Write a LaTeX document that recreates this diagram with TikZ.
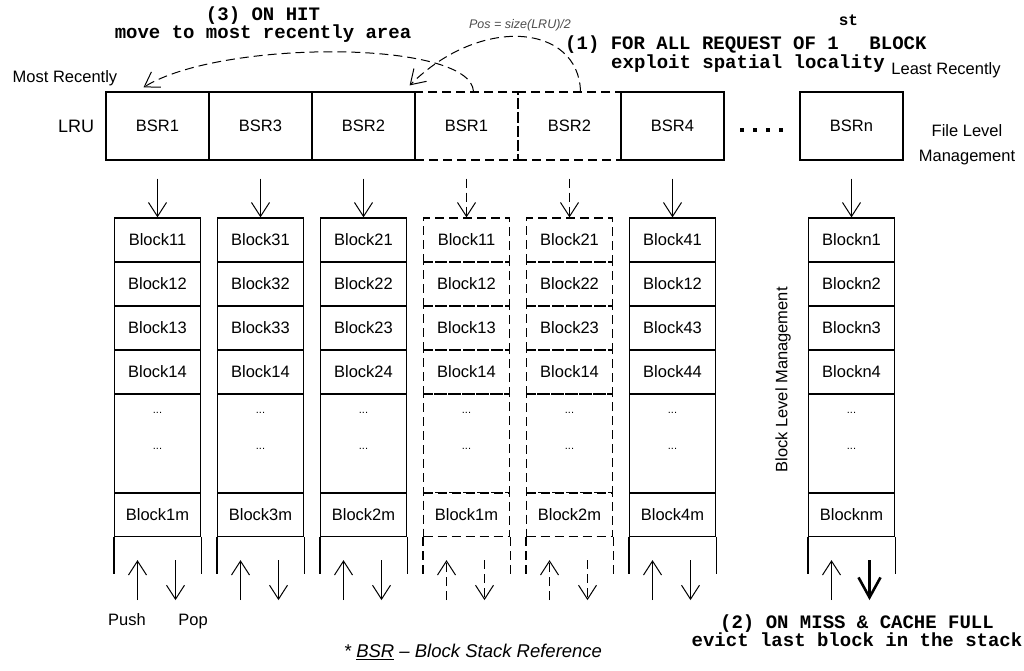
\documentclass[tikz,border=0pt]{standalone}
\usepackage{fontspec}
\setmainfont{Liberation Sans}
\setmonofont{Liberation Mono}
\usetikzlibrary{arrows.meta, positioning}

\begin{document}
\begin{tikzpicture}[x=1pt, y=-1pt]
        % 스타일 정의
        \tikzset{box/.style={draw, line width=1.2pt, minimum width=103pt, minimum height=68pt, inner sep=0pt, font=\fontsize{16.5}{18}\selectfont}}
        \tikzset{cell/.style={draw, line width=1.2pt, minimum width=86pt, minimum height=44pt, inner sep=0pt, font=\fontsize{16.5}{18}\selectfont}}
        \tikzset{dsh/.style={dash pattern=on 9pt off 5pt}}
        \tikzset{sld/.style={solid}}
        \tikzset{arr/.style={-{Straight Barb[length=14pt,width=18pt]}, line width=1pt}}
        \tikzset{evictarr/.style={-{Straight Barb[length=20pt,width=22pt]}, line width=2.6pt}}
        \tikzset{note/.style={font=\fontsize{19}{18}\selectfont\ttfamily\bfseries, align=center, inner sep=0pt}}
        \tikzset{lbl/.style={font=\fontsize{16.5}{20}\selectfont, inner sep=0pt}}
        \tikzset{dotslbl/.style={font=\fontsize{11}{11}\selectfont, inner sep=0pt}}
        \tikzset{poslabel/.style={font=\fontsize{12.5}{14}\selectfont\itshape, text=black!70, inner sep=0pt}}

        \useasboundingbox (0,0) rectangle (1024,671);

        % 1. LRU 칸과 그 아래 블록 스택
        \foreach \cx/\st/\bsr/\ba/\bb/\bc/\bd/\bm/\pop [count=\i] in {
                157.5/sld/BSR1/Block11/Block12/Block13/Block14/Block1m/arr,
                260.5/sld/BSR3/Block31/Block32/Block33/Block14/Block3m/arr,
                363.5/sld/BSR2/Block21/Block22/Block23/Block24/Block2m/arr,
                466.5/dsh/BSR1/Block11/Block12/Block13/Block14/Block1m/arr,
                569.5/dsh/BSR2/Block21/Block22/Block23/Block14/Block2m/arr,
                672.5/sld/BSR4/Block41/Block12/Block43/Block44/Block4m/arr,
                851.5/sld/BSRn/Blockn1/Blockn2/Blockn3/Blockn4/Blocknm/evictarr}
        {
            \node[box, \st] (l\i) at (\cx,126) {\bsr};
            \node[cell, \st] (b\i1) at (\cx,240) {\ba};
            \node[cell, \st] (b\i2) at (\cx,284) {\bb};
            \node[cell, \st] (b\i3) at (\cx,328) {\bc};
            \node[cell, \st] (b\i4) at (\cx,372) {\bd};
            \node[cell, \st, minimum height=99pt] (b\i5) at (\cx,443.5) {};
            \node[cell, \st] (b\i6) at (\cx,514.5) {\bm};
            \node[dotslbl] (d\i a) at (\cx,413) {...};
            \node[dotslbl] (d\i b) at (\cx,449) {...};

            % 스택 옆면과 push / pop
            \draw[line width=1.2pt, \st] (b\i6.south west) -- ++(0,37);
            \draw[line width=1.2pt, \st] (b\i6.south east) -- ++(0,37);
            \draw[arr, \st] ([yshift=-18pt]l\i.south) -- (b\i1.north);
            \draw[arr, \st] ([xshift=-20pt,yshift=-63pt]b\i6.south) -- ([xshift=-20pt,yshift=-23pt]b\i6.south);
            \draw[\pop, \st] ([xshift=18pt,yshift=-23pt]b\i6.south) -- ([xshift=18pt,yshift=-63pt]b\i6.south);
        }

        % 2. 글자들
        \node[lbl, font=\fontsize{18}{20}\selectfont, left=11pt of l1] (lru) {LRU};
        \node[lbl] (most) at (65,78) {Most Recently};
        \node[lbl] (least) at (946,70) {Least Recently};
        \node[lbl, align=center, font=\fontsize{16.5}{25}\selectfont] (filelvl) at (967,145) {File Level\\Management};
        \node[lbl, rotate=90] (blocklvl) at (783,380) {Block Level Management};
        \node[lbl, anchor=base] (push) at (127,625) {Push};
        \node[lbl, anchor=base] (pop) at (193,625) {Pop};
        \node[lbl, font=\fontsize{18.5}{20}\selectfont\itshape] (bsrnote) at (473,652) {* \underline{BSR} -- Block Stack Reference};
        \node[poslabel] (possize) at (520,25) {Pos = size(LRU)/2};

        \coordinate (gap) at (740,128);
        \foreach \dx in {0,13,26,39}
            \fill ([xshift=\dx pt]gap) rectangle +(4,4);

        % 3. 설명 문구
        \node[note] (hit) at (263,25) {(3) ON HIT\\move to most recently area};
        \node[note, anchor=base west] (req) at (565,50) {(1) FOR ALL REQUEST OF 1\raisebox{24pt}{\fontsize{16}{16}\selectfont st} BLOCK};
        \node[note, anchor=base west] (spat) at ([xshift=46pt,yshift=-19pt]req.base west) {exploit spatial locality};
        \node[note] (miss) at (857,631) {(2) ON MISS \& CACHE FULL\\evict last block in the stack};

        % 4. 점선 곡선 화살표
        \draw[arr, dsh] ([xshift=7pt]l4.north) .. controls +(-3,-52) and +(77,-48) .. ([xshift=-14pt,yshift=4pt]l1.north);
        \draw[arr, dsh] ([xshift=11pt]l5.north) .. controls +(-2,-67) and +(72,-71) .. ([xshift=-6pt,yshift=6pt]l3.north east);
    \end{tikzpicture}
\end{document}
